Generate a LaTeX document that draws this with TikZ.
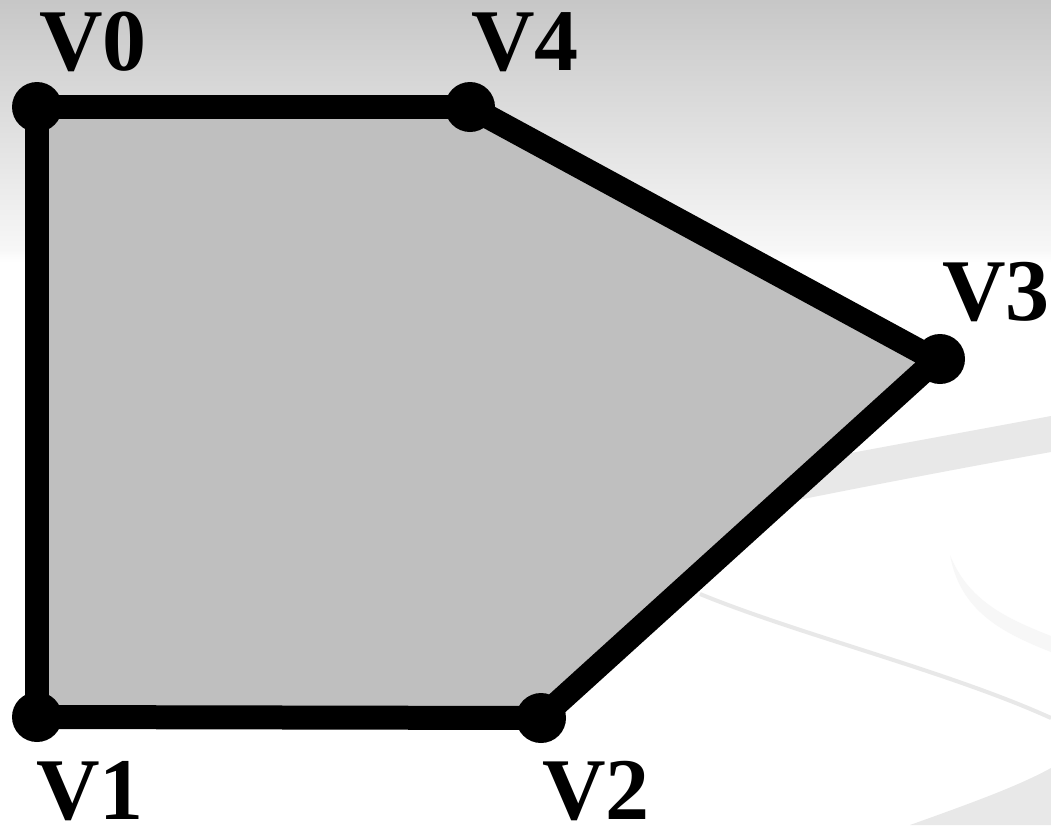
\documentclass[tikz,border=0pt]{standalone}
\usepackage{fontspec}
\setmainfont{Liberation Serif}
\begin{document}
\begin{tikzpicture}[x=1pt,y=-1pt,
  vdot/.style={circle,fill=black,inner sep=0pt,minimum size=50pt},
  vlabel/.style={font=\fontsize{88}{88}\selectfont\bfseries,inner sep=0pt,anchor=center},
  edge/.style={line width=24pt,line join=round},
  swoosh/.style={fill=black!9,draw=none}]
\useasboundingbox (0,0) rectangle (1051,825);
% background
\fill[white] (0,0) rectangle (1051,825);
\shade[top color=black!22,bottom color=black!3] (0,0) rectangle (1051,250);
\shade[top color=black!3,bottom color=white] (0,250) rectangle (1051,262);
\fill[swoosh] (700,520) .. controls (820,495) and (950,470) .. (1051,452) -- (1051,416) .. controls (950,435) and (820,458) .. (700,482) -- cycle;
\draw[black!9,line width=4pt] (700,594) .. controls (800,635) and (950,672) .. (1051,718);
\fill[black!3] (950,555) .. controls (960,610) and (1000,632) .. (1051,652) -- (1051,636) .. controls (1005,618) and (968,600) .. cycle;
\fill[swoosh] (910,825) .. controls (980,800) and (1020,785) .. (1051,768) -- (1051,825) -- cycle;
% vertices
\coordinate (v0) at (37,107);
\coordinate (v1) at (37,717);
\coordinate (v2) at (541,718);
\coordinate (v3) at (936,360);
\coordinate (v4) at (470,107);
\fill[black!25] (v0) -- (v1) -- (v2) -- (v3) -- (v4) -- cycle;
\draw[edge] (v0) -- (v1);
\draw[edge] (v1) -- (v2);
\draw[edge] (v2) -- (v3);
\draw[edge] (v3) -- (v4);
\draw[edge] (v4) -- (v0);
\node[vdot] (d0) at (v0) {};
\node[vdot] (d1) at (v1) {};
\node[vdot] (d2) at (v2) {};
\node[vdot] (d3) at (940,359) {};
\node[vdot] (d4) at (v4) {};
\node[vlabel] (l0) at (93,42) {V0};
\node[vlabel] (l4) at (525,42) {V4};
\node[vlabel] (l3) at (996,292) {V3};
\node[vlabel] (l1) at (90,791) {V1};
\node[vlabel] (l2) at (596,791) {V2};
\end{tikzpicture}
\end{document}
